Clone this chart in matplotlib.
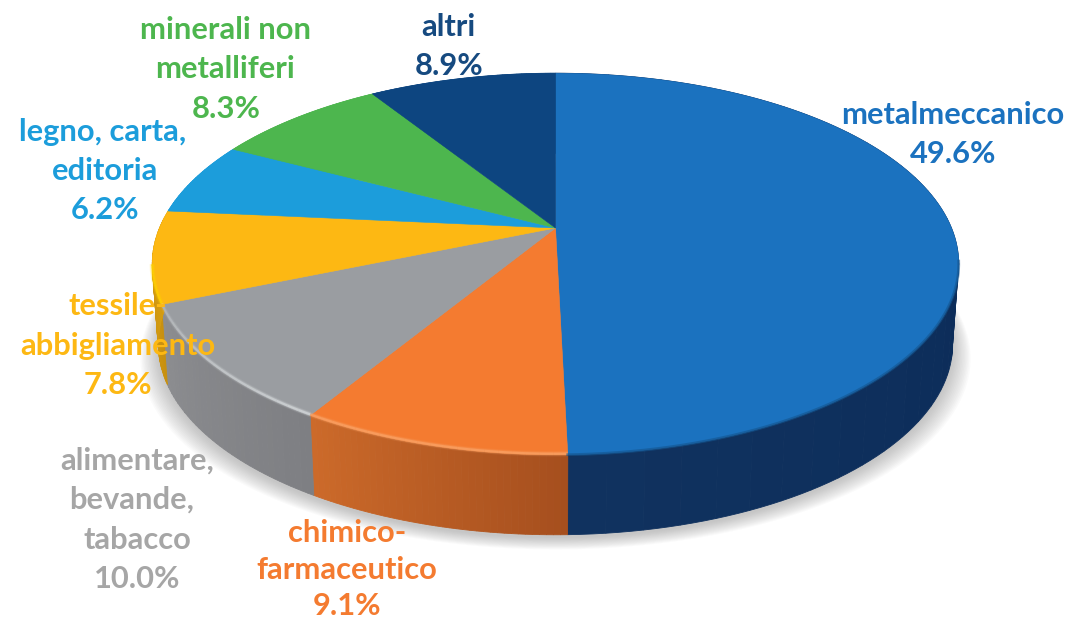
import numpy as np
import matplotlib
matplotlib.use("Agg")
import matplotlib.pyplot as plt
from matplotlib.colors import to_rgb

# data
sectors = ["metalmeccanico", "chimico-farmaceutico", "alimentare, bevande, tabacco",
           "tessile-abbigliamento", "legno, carta, editoria", "minerali non metalliferi", "altri"]
values = [49.6, 9.1, 10.0, 7.8, 6.2, 8.3, 8.9]
label_lines = [["metalmeccanico"], ["chimico-", "farmaceutico"], ["alimentare,", "bevande,", "tabacco"],
               ["tessile-", "abbigliamento"], ["legno, carta,", "editoria"], ["minerali non", "metalliferi"], ["altri"]]

# style
top_colors = ["#1b72bf", "#f47b30", "#9a9da1", "#fdb813", "#1c9ddb", "#4db64e", "#0d4580"]
text_colors = ["#1b72bf", "#f47b30", "#a6a6a6", "#fdb813", "#1c9ddb", "#4db64e", "#164a80"]
wall_left = ["#10325f", "#cc6a2a", "#8c8d90", "#d9a010", "#1c9ddb", "#4db64e", "#0d4580"]
wall_right = ["#072552", "#a64f1e", "#7e7f83", "#c89010", "#1c9ddb", "#4db64e", "#0d4580"]
rim_colors = [None, "#fbaa70", "#dfe3e5", "#ffd400", None, None, None]
label_xy = [[(953, 115), (953, 154)],
            [(347, 533), (347, 570), (347, 606)],
            [(137, 461), (132, 500), (137, 540), (137, 579)],
            [(118, 306), (118, 346), (118, 385)],
            [(103, 132), (105, 171), (105, 210)],
            [(225, 30), (225, 69), (226, 109)],
            [(448, 27), (449, 66)]]

CX, CY = 555.5, 228.0
K, S, T = 0.1886, 396.0, 184.0
DEPTH = 80.0
SHRINK = 0.985


def project(theta):
    # theta clockwise from the far (top) point of the disc, in radians
    x, y = np.sin(theta), np.cos(theta)
    d = 1 + K * y
    return CX + S * x / d, CY - T * y / d


def lower(px, py):
    return CX + (px - CX) * SHRINK, py + DEPTH


fig = plt.figure(figsize=(10.68, 6.20), dpi=100, facecolor="white")
ax = fig.add_axes([0, 0, 1, 1])
ax.set_xlim(0, 1068)
ax.set_ylim(620, 0)
ax.axis("off")

edges = np.radians(np.concatenate([[0], np.cumsum(values)]) * 3.6)
edges[-1] = 2 * np.pi

# soft shadow below the disc
all_t = np.linspace(0, 2 * np.pi, 400)
ox, oy = project(all_t)
bx, by = lower(ox, oy)
for grow in np.linspace(18, 0, 14):
    sx = CX + (bx - CX) * (1 + grow / 400)
    sy = by + 3 + grow * 0.65
    ax.fill(sx, sy, color="#707070", alpha=0.03, lw=0, zorder=1)

# side wall
for i in range(len(values)):
    t = np.linspace(edges[i], edges[i + 1], 40)
    cl, cr = np.array(to_rgb(wall_left[i])), np.array(to_rgb(wall_right[i]))
    for j in range(len(t) - 1):
        sub = np.linspace(t[j], t[j + 1], 4)
        px, py = project(sub)
        qx, qy = lower(px, py)
        f = 1 - j / (len(t) - 2)
        c = cl * (1 - f) + cr * f
        ax.fill(np.r_[px, qx[::-1]], np.r_[py, qy[::-1]], color=c, lw=0.6, ec=c, zorder=2)

# top face
for i in range(len(values)):
    t = np.linspace(edges[i], edges[i + 1], 200)
    px, py = project(t)
    ax.fill(np.r_[CX, px], np.r_[CY, py], color=top_colors[i], lw=0.4, ec=top_colors[i], zorder=3)

# bevel highlights on the rim, fading away from the front
for i, rc in enumerate(rim_colors):
    if rc is None:
        continue
    t = np.linspace(edges[i], edges[i + 1], 121)
    if i == 3:
        t = t[:50]
    px, py = project(t)
    n = len(t) - 1
    step = 6
    for j in range(0, n, step):
        seg = slice(j, min(j + step + 1, n + 1))
        fade = 1.0 if i != 2 else 1.0 - 0.65 * j / n
        for lw, a in [(5.5, 0.12), (3.8, 0.25), (2.2, 0.55)]:
            ax.plot(px[seg], py[seg] - 1, color=rc, lw=lw * 0.72, alpha=a * fade,
                    solid_capstyle="butt", zorder=4)

# blurred edge of the metal top against its wall, only where the wall shows
t = np.linspace(np.radians(100), edges[1], 200)
px, py = project(t)
ax.plot(px, py, color="#14558f", lw=2.0, alpha=0.6, zorder=4)

# labels
for i, lines in enumerate(label_lines):
    rows = lines + [f"{values[i]:.1f}%"]
    for row, (x, y) in zip(rows, label_xy[i]):
        ax.text(x, y, row, color=text_colors[i], fontsize=22.2, fontfamily="Lato", fontweight="bold",
                ha="center", va="center", zorder=6)

fig.savefig("out.png", dpi=100, facecolor="white")
